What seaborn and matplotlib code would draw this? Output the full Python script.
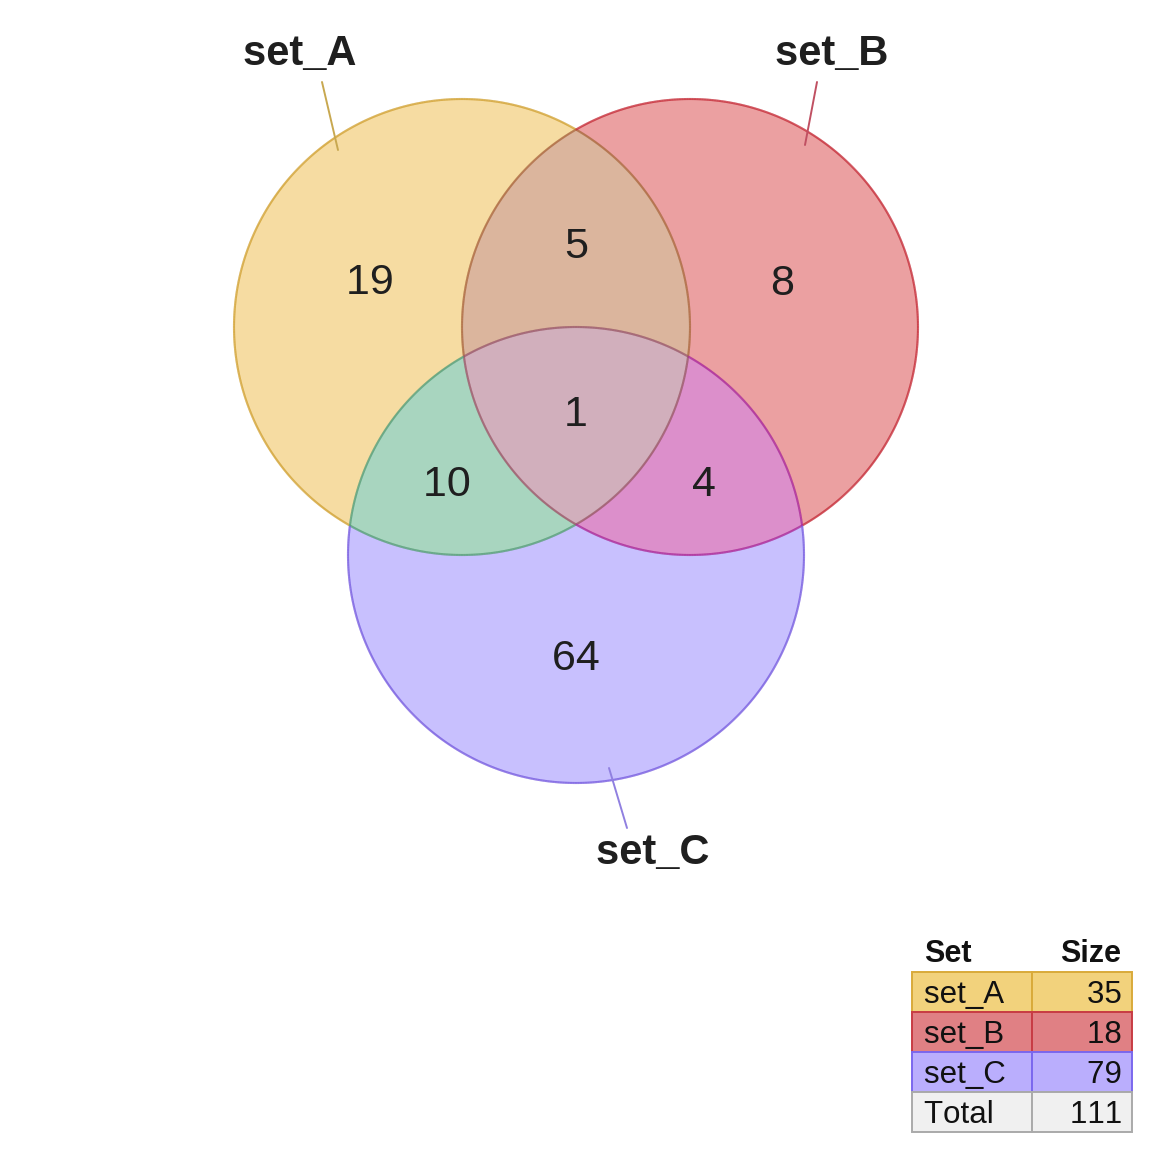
import numpy as np
import matplotlib.pyplot as plt
import seaborn as sns
from matplotlib.patches import Circle, Polygon, Rectangle
from matplotlib.collections import LineCollection

# --- data ---
set_names = ["set_A", "set_B", "set_C"]
region_keys = ["A", "B", "C", "AB", "AC", "BC", "ABC"]
region_counts = [19, 8, 64, 5, 10, 4, 1]
set_sizes = [35, 18, 79]
total_size = 111

# --- colours ---
fill = {"A": "#F6DCA2", "B": "#EBA0A1", "C": "#C8C0FE", "AB": "#DBB59D",
        "AC": "#A8D5BF", "BC": "#DC8FCB", "ABC": "#D1AFBC"}
edge = {"A": "#D2A233", "B": "#C62C38", "C": "#775CE0", "AB": "#AC6A40",
        "AC": "#58A078", "BC": "#AC2A98", "ABC": "#9C5A6A"}
table_fill = ["#F2D27C", "#E08084", "#BAAEFD", "#F0F0F0"]
table_edge = ["#D9AA3A", "#C83C44", "#7B68EE", "#AAAAAA"]
leader_col = ["#C8A850", "#C05062", "#9080E0"]

# --- layout (pixel coordinates, y downwards) ---
centers = {"A": (462, 327), "B": (690, 327), "C": (576, 555)}
radius = 228
num_pos = {"A": (370, 294), "B": (782, 295), "C": (576, 670), "AB": (576, 258),
           "AC": (447, 496), "BC": (704, 496), "ABC": (576, 426)}
label_pos = [(300, 65), (832, 65), (653, 864)]
leaders = [((322, 82), (338, 150)), ((817, 82), (805, 145)), ((609, 768), (627, 828))]

sns.set_theme(style="white")
plt.rcParams["font.family"] = ["Liberation Sans", "DejaVu Sans"]

fig = plt.figure(figsize=(11.52, 11.52), dpi=100)
ax = fig.add_axes([0, 0, 1, 1])
ax.set_xlim(0, 1152)
ax.set_ylim(1152, 0)
ax.set_aspect("equal")
ax.axis("off")


def inside(p, k):
    c = centers[k]
    return (p[..., 0] - c[0]) ** 2 + (p[..., 1] - c[1]) ** 2 < radius ** 2


def nokern(s):
    # zero-width spaces stop pair kerning ("11" packs too tight otherwise)
    return "\u200b".join(s)


# single-set fills
for k in "ABC":
    ax.add_patch(Circle(centers[k], radius, fc=fill[k], ec="none", zorder=1))

# pairwise fills (circle clipped by the other circle)
for k in ["AB", "AC", "BC"]:
    p = Circle(centers[k[0]], radius, fc=fill[k], ec="none", zorder=2)
    ax.add_patch(p)
    p.set_clip_path(Circle(centers[k[1]], radius, transform=ax.transData))

# triple intersection polygon
t = np.linspace(0, 2 * np.pi, 1440, endpoint=False)
pts = []
for k in "ABC":
    c = centers[k]
    ring = np.column_stack([c[0] + radius * np.cos(t), c[1] + radius * np.sin(t)])
    others = [o for o in "ABC" if o != k]
    mask = inside(ring, others[0]) & inside(ring, others[1])
    pts.append(ring[mask])
pts = np.vstack(pts)
mid = pts.mean(axis=0)
order = np.argsort(np.arctan2(pts[:, 1] - mid[1], pts[:, 0] - mid[0]))
ax.add_patch(Polygon(pts[order], closed=True, fc=fill["ABC"], ec="none", zorder=3))

# outlines, coloured by the region they bound
t2 = np.linspace(0, 2 * np.pi, 2001)
for k in "ABC":
    c = centers[k]
    ring = np.column_stack([c[0] + radius * np.cos(t2), c[1] + radius * np.sin(t2)])
    segs = np.stack([ring[:-1], ring[1:]], axis=1)
    midp = segs.mean(axis=1)
    cols = []
    for p in midp:
        key = "".join(s for s in "ABC" if s == k or inside(p, s))
        cols.append(edge[key])
    ax.add_collection(LineCollection(segs, colors=cols, linewidths=1.5, zorder=4))

# region counts
for key, n in zip(region_keys, region_counts):
    x, y = num_pos[key]
    ax.text(x, y, nokern(str(n)), ha="center", va="baseline", fontsize=31,
            color="#1F1F1F", zorder=5)

# set labels with leader lines
for name, (x, y), (p0, p1), lc in zip(set_names, label_pos, leaders, leader_col):
    ax.text(x, y, nokern(name), ha="center", va="baseline", fontsize=30,
            fontweight="bold", color="#1F1F1F", zorder=5)
    ax.plot([p0[0], p1[0]], [p0[1], p1[1]], color=lc, lw=1.4, zorder=5)

# size table
x0, xm, x1 = 912, 1032, 1132
row_top = 972
row_h = 40
ax.text(924, 962, "Set", ha="left", va="baseline", fontsize=22,
        fontweight="bold", color="#111111")
ax.text(1121, 962, "Size", ha="right", va="baseline", fontsize=22,
        fontweight="bold", color="#111111")
rows = list(zip(set_names, set_sizes)) + [("Total", total_size)]
for i, (name, size) in enumerate(rows):
    y = row_top + i * row_h
    for xa, xb in [(x0, xm), (xm, x1)]:
        ax.add_patch(Rectangle((xa, y), xb - xa, row_h, fc=table_fill[i],
                               ec=table_edge[i], lw=1.4, zorder=2))
    ax.text(924, y + 31, nokern(name), ha="left", va="baseline", fontsize=22.5,
            color="#111111", zorder=3)
    ax.text(1122, y + 31, nokern(str(size)), ha="right", va="baseline",
            fontsize=22.5, color="#111111", zorder=3)

fig.savefig("out.png", dpi=100, facecolor="white")
